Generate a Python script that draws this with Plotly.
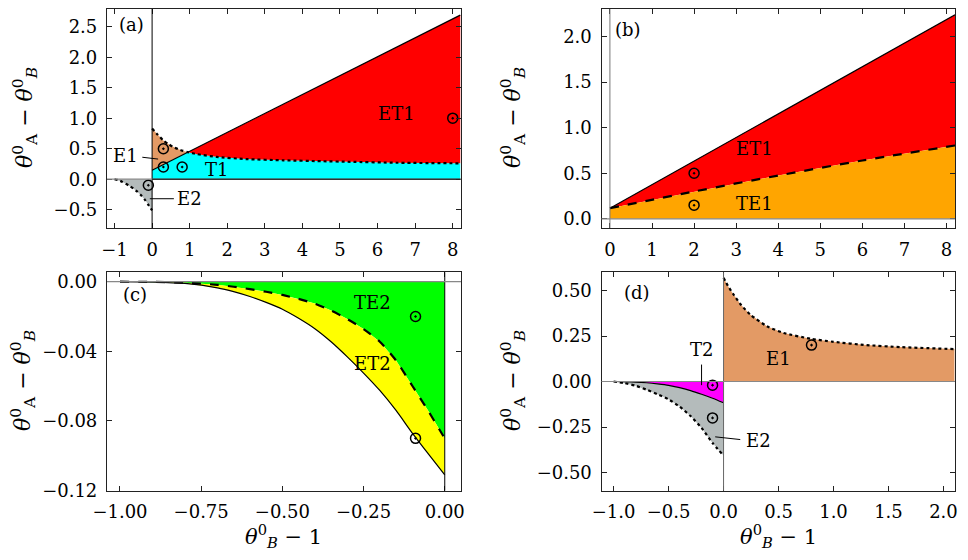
import numpy as np
import plotly.graph_objects as go

# ---- panel (a) ----
a_line_x = [0.0, 8.2]
a_line_y = [0.148, 2.69]
a_dot_x = [0.0, 0.15, 0.29, 0.45, 0.56, 0.75, 0.95, 1.2, 1.71, 2.5, 3.49, 4.5, 5.27, 6.5, 8.2]
a_dot_y = [0.83, 0.73, 0.64, 0.57, 0.53, 0.48, 0.443, 0.41, 0.366, 0.33, 0.31, 0.295, 0.285, 0.27, 0.26]
a_cross = 0.95
a_e2_x = [-1.0, -0.9, -0.8, -0.7, -0.6, -0.5, -0.4, -0.3, -0.2, -0.1, 0.0]
a_e2_y = [0.0, -0.015, -0.04, -0.075, -0.11, -0.152, -0.2, -0.26, -0.33, -0.42, -0.51]
a_pts_x = [0.3, 0.3, 0.8, -0.1, 8.0]
a_pts_y = [0.5, 0.2, 0.2, -0.1, 1.0]

# ---- panel (b) ----
b_line_x = [0.0, 8.2]
b_line_y = [0.117, 2.237]
b_dash_x = [0.0, 2.0, 4.0, 6.0, 8.2]
b_dash_y = [0.117, 0.30, 0.475, 0.64, 0.804]
b_pts_x = [2.0, 2.0]
b_pts_y = [0.5, 0.15]

# ---- panel (c) ----
c_x = [-1.0, -0.9, -0.8, -0.7, -0.65, -0.6, -0.55, -0.5, -0.45, -0.4, -0.35, -0.3,
       -0.25, -0.2, -0.15, -0.1, -0.05, 0.0]
c_et2 = [0.0, -0.0002, -0.001, -0.0035, -0.0057, -0.0085, -0.0119, -0.0158, -0.021, -0.027,
         -0.0345, -0.0432, -0.0525, -0.0625, -0.074, -0.087, -0.0991, -0.111]
c_te2 = [0.0, -0.0001, -0.0006, -0.0018, -0.0029, -0.0043, -0.0058, -0.0076, -0.0099, -0.0126,
         -0.0166, -0.0215, -0.0272, -0.0345, -0.0453, -0.0598, -0.0745, -0.0901]
c_pts_x = [-0.09, -0.09]
c_pts_y = [-0.02, -0.09]

# ---- panel (d) ----
d_e1_x = [0.0, 0.04, 0.091, 0.16, 0.242, 0.394, 0.545, 0.79, 1.0, 1.3, 1.61, 2.1]
d_e1_y = [0.57, 0.525, 0.478, 0.42, 0.368, 0.304, 0.267, 0.235, 0.218, 0.2, 0.189, 0.178]
d_x = [-1.0, -0.9, -0.8, -0.7, -0.6, -0.5, -0.4, -0.3, -0.2, -0.1, 0.0]
d_t2 = [0.0, -0.001, -0.003, -0.007, -0.013, -0.021, -0.034, -0.050, -0.070, -0.092, -0.117]
d_e2 = [0.0, -0.009, -0.023, -0.045, -0.07, -0.098, -0.138, -0.19, -0.255, -0.338, -0.407]
d_pts_x = [-0.1, -0.1, 0.8]
d_pts_y = [-0.02, -0.2, 0.2]

# region colours
C_E1 = "#E39A65"
C_E2 = "#B4BBBB"
C_ET1 = "#FF0000"
C_T1 = "#00FFFF"
C_TE1 = "#FFA500"
C_TE2 = "#00FF00"
C_ET2 = "#FFFF00"
C_T2 = "#FF00FF"

FONT = "DejaVu Serif"

# page body keeps an 8px margin, so the figure is 16px smaller than the window
W, H, PAD = 952, 544, 8


def px(X):
    return (X - PAD) / W


def py(Y):
    return 1 - (Y - PAD) / H


fig = go.Figure()


def fill(xs, ys, color, ax):
    fig.add_trace(go.Scatter(x=xs, y=ys, fill="toself", fillcolor=color, mode="lines",
                             line=dict(width=0), hoverinfo="skip",
                             xaxis="x" + ax, yaxis="y" + ax))


def curve(xs, ys, dash, ax, width=1.2):
    fig.add_trace(go.Scatter(x=xs, y=ys, mode="lines",
                             line=dict(color="black", width=width, dash=dash, shape="spline",
                                       smoothing=0.6),
                             hoverinfo="skip", xaxis="x" + ax, yaxis="y" + ax))


def points(xs, ys, ax):
    fig.add_trace(go.Scatter(x=xs, y=ys, mode="markers",
                             marker=dict(symbol="circle-open-dot", size=10, color="black",
                                         line=dict(width=1.5, color="black")),
                             xaxis="x" + ax, yaxis="y" + ax))


# panel (a) fills
ax_ = np.array(a_dot_x)
ay_ = np.array(a_dot_y)
left = ax_ <= a_cross
right = ax_ >= a_cross
l0 = np.interp(0.0, a_line_x, a_line_y)
lc = np.interp(a_cross, a_line_x, a_line_y)
lend = np.interp(a_dot_x[-1], a_line_x, a_line_y)
fill(list(ax_[left]) + [a_cross, 0.0], list(ay_[left]) + [lc, l0], C_E1, "")
fill([0.0, 0.0, a_cross] + list(ax_[right]) + [a_dot_x[-1]],
     [0.0, l0, lc] + list(ay_[right]) + [0.0], C_T1, "")
fill(list(ax_[right]) + [a_dot_x[-1], a_cross], list(ay_[right]) + [lend, lc], C_ET1, "")
fill(a_e2_x + [0.0], a_e2_y + [0.0], C_E2, "")
curve(a_line_x, a_line_y, "solid", "")
curve(a_dot_x, a_dot_y, "dot", "", 2.2)
curve(a_e2_x, a_e2_y, "dot", "", 2.2)
points(a_pts_x, a_pts_y, "")

# panel (b) fills
fill(b_line_x + b_dash_x[::-1], b_line_y + b_dash_y[::-1], C_ET1, "2")
fill(b_dash_x + [b_dash_x[-1], 0.0], b_dash_y + [0.0, 0.0], C_TE1, "2")
curve(b_line_x, b_line_y, "solid", "2")
curve(b_dash_x, b_dash_y, "dash", "2", 2.2)
points(b_pts_x, b_pts_y, "2")

# panel (c) fills
fill(c_x + [0.0], c_te2 + [0.0], C_TE2, "3")
fill(c_x + c_x[::-1], c_et2 + c_te2[::-1], C_ET2, "3")
curve(c_x, c_et2, "solid", "3")
curve(c_x, c_te2, "dash", "3", 2.2)
points(c_pts_x, c_pts_y, "3")

# panel (d) fills
fill(d_e1_x + [d_e1_x[-1], 0.0], d_e1_y + [0.0, 0.0], C_E1, "4")
fill(d_x + [0.0], d_t2 + [0.0], C_T2, "4")
fill(d_x + d_x[::-1], d_e2 + d_t2[::-1], C_E2, "4")
curve(d_e1_x, d_e1_y, "dot", "4", 2.2)
curve(d_x, d_t2, "solid", "4")
curve(d_x, d_e2, "dot", "4", 2.2)
points(d_pts_x, d_pts_y, "4")

# zero lines and leader lines
shapes = []
for ax, vcol, hcol in [("", "black", "#888888"), ("2", "#777777", "#888888"),
                       ("3", "black", "#888888"), ("4", "#666666", "#888888")]:
    xr = "x" + ax
    yr = "y" + ax
    shapes.append(dict(type="line", xref=xr, yref=yr + " domain", x0=0, x1=0, y0=0, y1=1,
                       line=dict(color=vcol, width=1)))
    shapes.append(dict(type="line", xref=xr + " domain", yref=yr, x0=0, x1=1, y0=0, y1=0,
                       line=dict(color=hcol, width=1.2)))
shapes.append(dict(type="line", xref="x", yref="y", x0=0, x1=8.2, y0=0, y1=0,
                   line=dict(color="black", width=1)))
leaders = [("", -0.26, 0.36, 0.16, 0.33), ("", -0.06, -0.32, 0.58, -0.32),
           ("4", -0.2, 0.093, -0.2, -0.02), ("4", -0.076, -0.304, 0.152, -0.319)]
for ax, x0, y0, x1, y1 in leaders:
    shapes.append(dict(type="line", xref="x" + ax, yref="y" + ax, x0=x0, y0=y0, x1=x1, y1=y1,
                       line=dict(color="black", width=1)))

# region labels
labels = [("", "(a)", -0.55, 2.53), ("", "ET1", 6.5, 1.08), ("", "E1", -0.72, 0.39),
          ("", "T1", 1.71, 0.16), ("", "E2", 1.0, -0.32),
          ("2", "(b)", 0.44, 2.07), ("2", "ET1", 3.44, 0.775), ("2", "TE1", 3.44, 0.164),
          ("3", "(c)", -0.955, -0.0072), ("3", "TE2", -0.224, -0.012), ("3", "ET2", -0.224, -0.0472),
          ("4", "(d)", -0.79, 0.487), ("4", "T2", -0.197, 0.176), ("4", "E1", 0.5, 0.126),
          ("4", "E2", 0.32, -0.322)]
annotations = []
for ax, txt, x, y in labels:
    annotations.append(dict(text=txt, x=x, y=y, xref="x" + ax, yref="y" + ax, showarrow=False,
                            xanchor="center", yanchor="middle",
                            font=dict(family=FONT, size=18, color="black")))

ytitle = "<i>θ</i><sup>0</sup><sub>A</sub> − <i>θ</i><sup>0</sup><sub><i>B</i></sub>"
xtitle = "<i>θ</i><sup>0</sup><sub><i>B</i></sub> − 1"
for x, y in [(25, 118), (513, 118), (23, 381), (513, 381)]:
    annotations.append(dict(text=ytitle, x=px(x), y=py(y), xref="paper", yref="paper",
                            textangle=-90, showarrow=False, xanchor="center", yanchor="middle",
                            font=dict(family=FONT, size=22, color="black")))
for x in [283, 778]:
    annotations.append(dict(text=xtitle, x=px(x), y=py(535.5), xref="paper", yref="paper",
                            showarrow=False, xanchor="center", yanchor="middle",
                            font=dict(family=FONT, size=21, color="black")))

axis_common = dict(showgrid=False, zeroline=False, showline=True, linecolor="#222222",
                   linewidth=1.2, mirror="ticks", ticks="inside", ticklen=5, tickcolor="#222222",
                   tickfont=dict(family=FONT, size=18, color="black"), ticklabelstandoff=5,
                   automargin=False)

xa, xb = px(107), px(461)
xc, xd = px(601.5), px(955)
ytop = [py(228), py(9)]
ybot = [py(490.7), py(272.3)]

fig.update_layout(
    width=W, height=H, margin=dict(l=0, r=0, t=0, b=0),
    plot_bgcolor="white", paper_bgcolor="white", showlegend=False,
    shapes=shapes, annotations=annotations,
    xaxis=dict(domain=[xa, xb], anchor="y", range=[-1.2, 8.22], dtick=1, **axis_common),
    yaxis=dict(domain=ytop, anchor="x", range=[-0.8, 2.79], tick0=0, dtick=0.5,
               tickformat=".1f", **axis_common),
    xaxis2=dict(domain=[xc, xd], anchor="y2", range=[-0.2, 8.2], dtick=1, **axis_common),
    yaxis2=dict(domain=ytop, anchor="x2", range=[-0.1, 2.3], tick0=0, dtick=0.5,
                tickformat=".1f", **axis_common),
    xaxis3=dict(domain=[xa, xb], anchor="y3", range=[-1.04, 0.05], tick0=0, dtick=0.25,
                tickformat=".2f", **axis_common),
    yaxis3=dict(domain=ybot, anchor="x3", range=[-0.1201, 0.0054], tick0=0, dtick=0.04,
                tickformat=".2f", **axis_common),
    xaxis4=dict(domain=[xc, xd], anchor="y4", range=[-1.11, 2.105], tick0=0, dtick=0.5,
                tickformat=".1f", **axis_common),
    yaxis4=dict(domain=ybot, anchor="x4", range=[-0.6, 0.6], tick0=0, dtick=0.25,
                tickformat=".2f", **axis_common),
)

fig.write_html("out.html")
